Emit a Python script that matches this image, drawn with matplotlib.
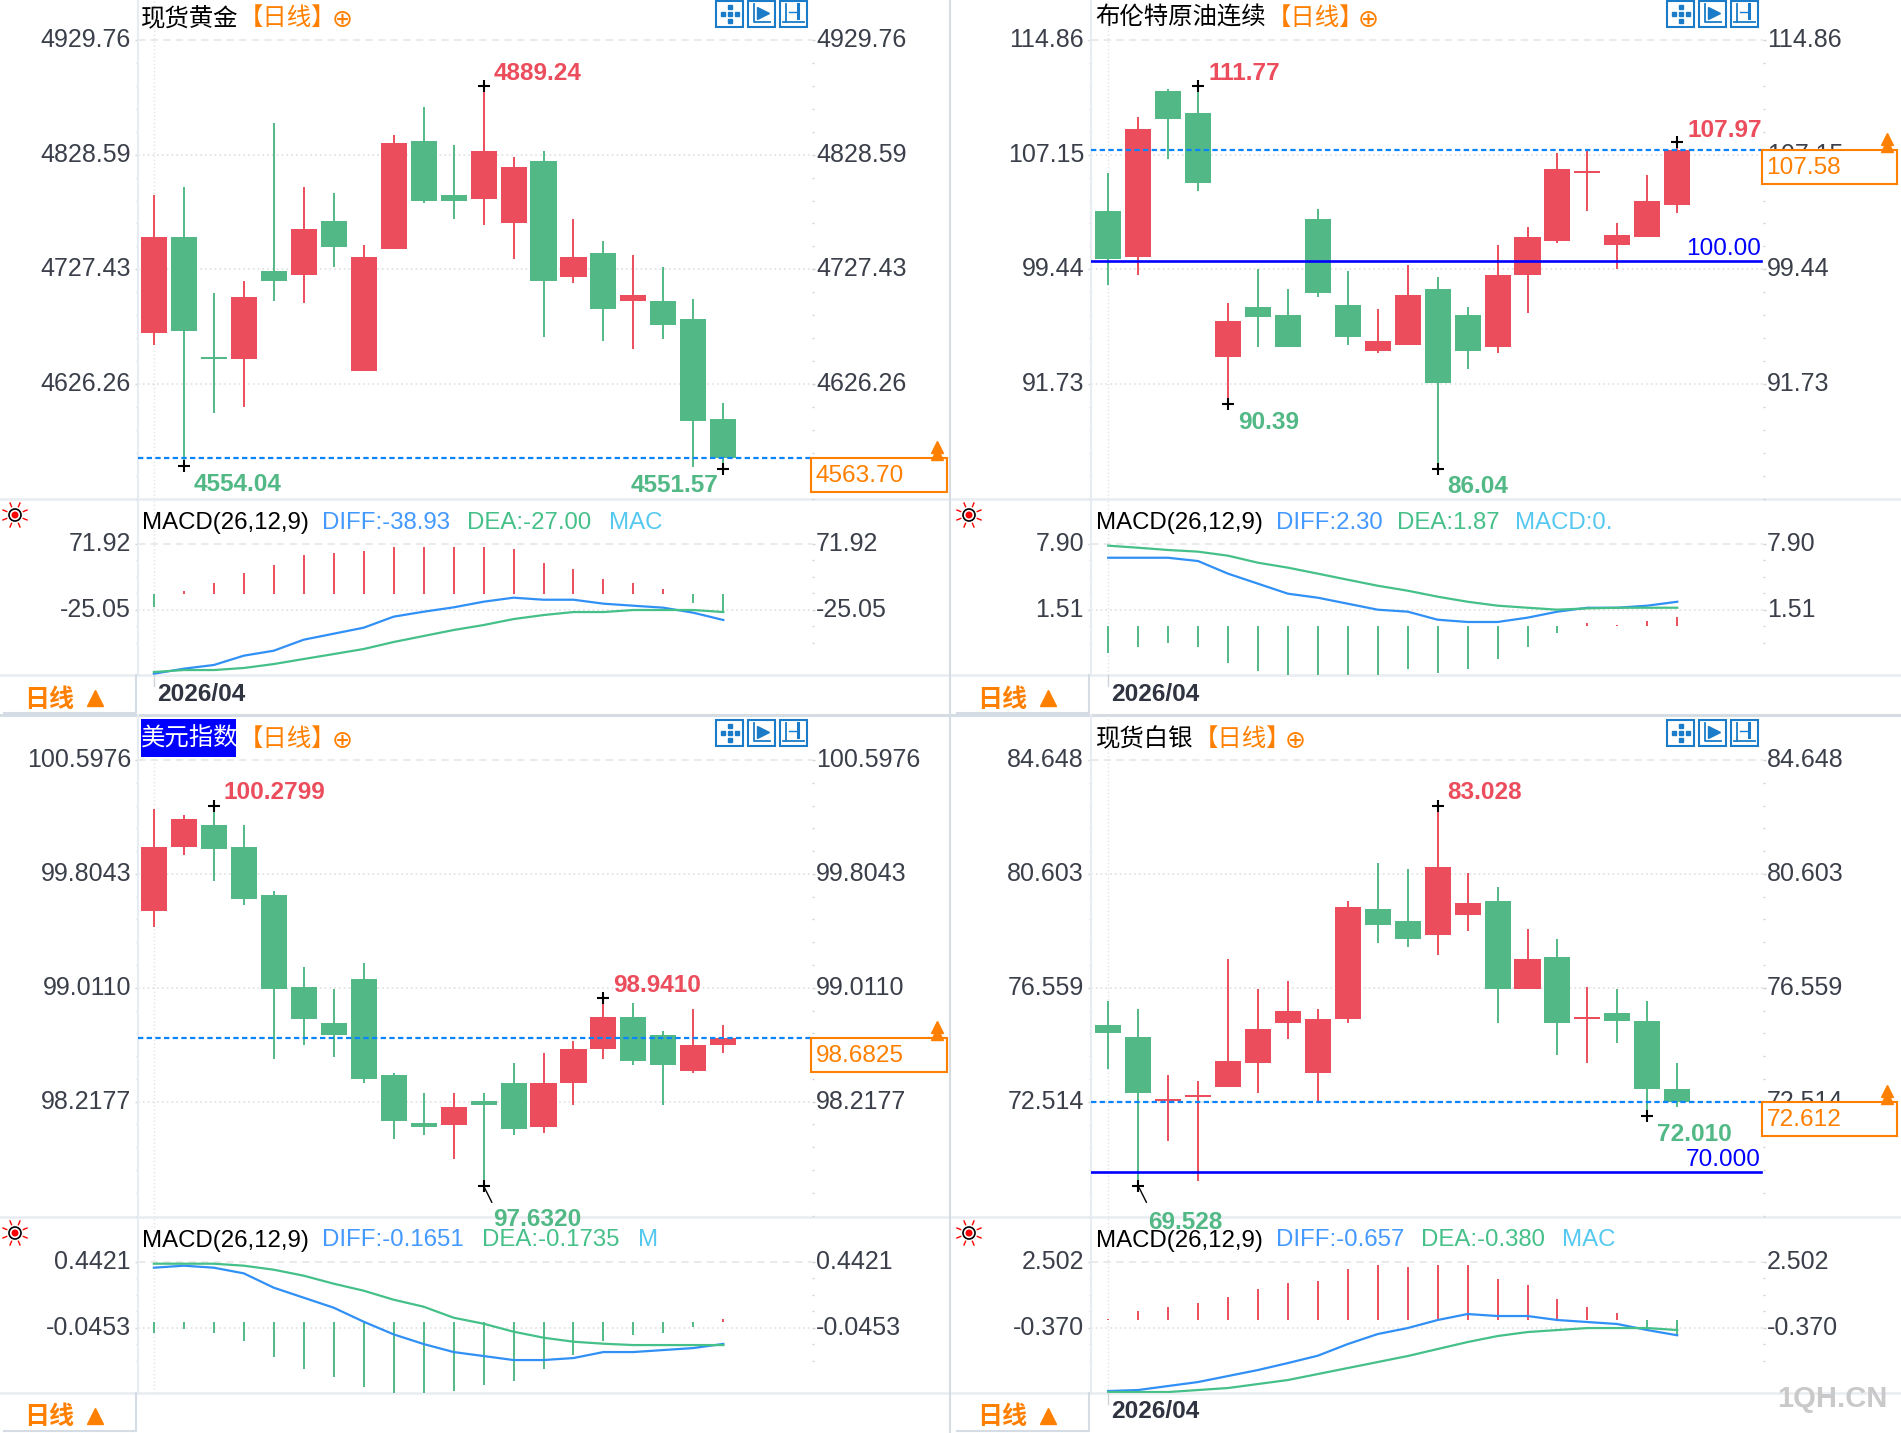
"""
Four-panel daily candlestick screen: gold, Brent, US dollar index, silver, each with MACD
"""

import numpy as np
import matplotlib
matplotlib.use('Agg')
import matplotlib.pyplot as plt
from matplotlib.patches import Rectangle, Circle
from matplotlib.transforms import ScaledTranslation

plt.rcParams['font.family'] = ['Liberation Sans', 'Noto Sans CJK SC', 'DejaVu Sans']

W, H = 1901, 1433
RED = '#ec4d5c'
GREEN = '#52b986'
ORANGE = '#ff8000'
TEXT = '#3a3f4a'
SEP = '#e9edf1'
FS = 17.6
TICK_FS = 18

# gold
gold_open = [4671.3, 4756.0, 4650.2, 4648.4, 4726.0, 4722.5, 4770.1, 4637.8, 4745.4, 4840.7,
             4793.0, 4789.5, 4768.4, 4823.0, 4720.7, 4741.9, 4699.6, 4699.6, 4683.7, 4595.5]
gold_high = [4793.0, 4800.1, 4706.6, 4717.2, 4856.6, 4800.1, 4794.8, 4749.0, 4846.0, 4870.7,
             4837.2, 4889.24, 4826.6, 4831.9, 4771.9, 4752.5, 4740.2, 4729.6, 4701.3, 4609.6]
gold_low = [4660.7, 4554.04, 4600.8, 4606.1, 4699.6, 4697.8, 4729.6, 4637.8, 4745.4, 4786.0,
            4771.9, 4766.6, 4736.6, 4667.8, 4715.5, 4664.3, 4657.2, 4666.1, 4553.2, 4551.57]
gold_close = [4756.0, 4673.1, 4648.4, 4703.1, 4717.2, 4763.1, 4747.2, 4738.4, 4838.9, 4787.8,
              4787.8, 4831.9, 4817.8, 4717.2, 4738.4, 4692.5, 4704.9, 4678.4, 4593.7, 4561.0]
gold_hist = [-20.6, 2.4, 14.1, 28.8, 40.6, 55.3, 58.2, 61.1, 67.0, 67.0,
             67.0, 67.0, 64.1, 43.5, 34.7, 20.0, 14.1, 5.3, -15.7, -26.5]
gold_diff = [-119.1, -111.7, -106.3, -92.6, -85.3, -69.1, -60.3, -51.5, -35.3, -28.0,
             -21.6, -13.3, -7.4, -10.4, -10.4, -16.2, -19.2, -22.1, -29.5, -40.2]
gold_dea = [-116.6, -113.7, -113.7, -110.7, -104.9, -97.5, -90.2, -82.8, -72.5, -63.7,
            -54.9, -47.6, -38.8, -32.9, -28.5, -28.5, -25.5, -25.5, -25.5, -28.5]
gold_ticks = [4929.76, 4828.59, 4727.43, 4626.26]
gold_macd_ticks = [71.92, -25.05]

# brent
brent_open = [103.36, 100.27, 111.43, 109.95, 93.55, 96.91, 96.37, 102.83, 97.04, 93.95,
              94.35, 98.12, 96.37, 94.22, 99.06, 101.35, 105.92, 101.08, 101.62, 103.77]
brent_high = [105.92, 109.68, 111.57, 111.77, 97.18, 99.46, 98.12, 103.5, 99.33, 96.78,
              99.73, 98.93, 96.91, 101.08, 102.29, 107.26, 107.4, 102.56, 105.78, 107.97]
brent_low = [98.39, 99.06, 106.86, 104.71, 90.39, 94.22, 94.22, 97.58, 94.35, 93.82,
             94.35, 86.04, 92.74, 93.82, 96.51, 101.21, 103.36, 99.46, 101.62, 103.23]
brent_close = [100.14, 108.88, 109.55, 105.25, 95.97, 96.24, 94.22, 97.85, 94.89, 94.62,
               97.72, 91.8, 93.95, 99.06, 101.62, 106.19, 106.05, 101.75, 104.04, 107.46]
brent_hist = [-2.65, -2.07, -1.68, -2.07, -3.62, -4.4, -4.9, -4.9, -4.9, -4.9,
              -4.2, -4.59, -4.2, -3.23, -2.07, -0.75, 0.22, 0.03, 0.41, 0.8]
brent_diff = [6.54, 6.54, 6.54, 6.22, 5.0, 4.03, 3.06, 2.67, 2.09, 1.51,
              1.32, 0.54, 0.32, 0.32, 0.74, 1.32, 1.7, 1.7, 1.9, 2.28]
brent_dea = [7.71, 7.51, 7.29, 7.13, 6.74, 6.06, 5.58, 5.0, 4.41, 3.83,
             3.35, 2.77, 2.28, 1.9, 1.7, 1.51, 1.64, 1.7, 1.7, 1.7]
brent_ticks = [114.86, 107.15, 99.44, 91.73]
brent_macd_ticks = [7.90, 1.51]

# dollar index
usd_open = [99.546, 99.992, 100.145, 99.992, 99.657, 99.017, 98.766, 99.072, 98.404, 98.069,
            98.055, 98.223, 98.348, 98.041, 98.348, 98.585, 98.808, 98.682, 98.432, 98.613]
usd_high = [100.256, 100.215, 100.2799, 100.145, 99.685, 99.156, 99.003, 99.184, 98.418, 98.278,
            98.278, 98.278, 98.487, 98.557, 98.641, 98.941, 98.905, 98.71, 98.863, 98.752]
usd_low = [99.434, 99.936, 99.755, 99.588, 98.515, 98.613, 98.529, 98.348, 97.958, 97.986,
           97.819, 97.632, 97.986, 98.0, 98.195, 98.515, 98.473, 98.195, 98.418, 98.557]
usd_close = [99.992, 100.187, 99.978, 99.63, 99.003, 98.794, 98.682, 98.376, 98.083, 98.041,
             98.181, 98.195, 98.027, 98.348, 98.585, 98.808, 98.501, 98.473, 98.613, 98.661]
usd_hist = [-0.0847, -0.0552, -0.0847, -0.1439, -0.2621, -0.3507, -0.4098, -0.4836, -0.555, -0.555,
            -0.5131, -0.4688, -0.4393, -0.3507, -0.2472, -0.1439, -0.0995, -0.0847, -0.0404, 0.0186]
usd_diff = [0.3978, 0.4126, 0.3978, 0.3559, 0.2501, 0.1762, 0.1023, -0.0011, -0.0946, -0.166,
            -0.2251, -0.2546, -0.2842, -0.2842, -0.2694, -0.2251, -0.2251, -0.2103, -0.1956, -0.1651]
usd_dea = [0.4273, 0.4273, 0.4273, 0.4126, 0.383, 0.3387, 0.2796, 0.2279, 0.1614, 0.1097,
           0.0285, -0.0158, -0.0749, -0.1192, -0.1488, -0.1636, -0.1735, -0.1735, -0.1735, -0.1735]
usd_ticks = [100.5976, 99.8043, 99.0110, 98.2177]
usd_macd_ticks = [0.4421, -0.0453]

# silver
silver_open = [75.237, 74.811, 72.538, 72.68, 73.035, 73.887, 75.308, 73.532, 75.45, 79.356,
               78.93, 78.433, 79.143, 79.641, 76.515, 77.652, 75.45, 75.663, 75.379, 72.964]
silver_high = [76.089, 75.805, 73.461, 73.248, 77.581, 76.515, 76.799, 75.805, 79.641, 80.99,
               80.777, 83.028, 80.635, 80.138, 78.646, 78.291, 76.586, 76.515, 76.089, 73.887]
silver_low = [73.674, 69.528, 71.117, 69.697, 73.035, 72.822, 74.74, 72.538, 75.308, 78.149,
              78.007, 77.723, 78.575, 75.308, 76.515, 74.171, 73.887, 74.597, 72.01, 72.325]
silver_close = [74.953, 72.822, 72.609, 72.751, 73.958, 75.095, 75.734, 75.45, 79.427, 78.788,
                78.291, 80.848, 79.569, 76.515, 77.581, 75.308, 75.521, 75.379, 72.964, 72.5]
silver_hist = [0.007, 0.355, 0.529, 0.703, 0.964, 1.313, 1.574, 1.661, 2.183, 2.357,
               2.27, 2.357, 2.357, 1.748, 1.487, 0.877, 0.529, 0.268, -0.341, -0.733]
silver_diff = [-3.126, -3.082, -2.908, -2.734, -2.473, -2.212, -1.908, -1.588, -1.081, -0.646,
               -0.385, -0.036, 0.225, 0.138, 0.138, -0.036, -0.123, -0.21, -0.472, -0.7]
silver_dea = [-3.169, -3.169, -3.169, -3.082, -2.995, -2.821, -2.647, -2.386, -2.125, -1.864,
              -1.603, -1.298, -0.994, -0.733, -0.559, -0.472, -0.385, -0.385, -0.385, -0.472]
silver_ticks = [84.648, 80.603, 76.559, 72.514]
silver_macd_ticks = [2.502, -0.370]


def fmt(v, digits):
    return '{:.{}f}'.format(v, digits)


def px_rect(x0, y0, x1, y1):
    return [x0 / W, 1 - y1 / H, (x1 - x0) / W, (y1 - y0) / H]


def lim_from_ticks(v_hi, px_hi, v_lo, px_lo, top, bottom):
    """Value limits for a panel from two tick rows whose pixel rows are known."""
    per_px = (v_hi - v_lo) / (px_lo - px_hi)
    return v_hi - (bottom - px_hi) * per_px, v_hi + (px_hi - top) * per_px


def raise_labels(ax):
    # the terminal draws its scale numbers a little above the grid row
    offset = ScaledTranslation(0, 2.5 / 100, ax.figure.dpi_scale_trans)
    for lbl in ax.yaxis.get_majorticklabels():
        lbl.set_transform(lbl.get_transform() + offset)


def style_axes(ax, ticks, minor, digits, xlim):
    ax.set_facecolor('none')
    ax.set_xlim(*xlim)
    ax.set_xticks([])
    for side in ['top', 'right', 'bottom']:
        ax.spines[side].set_visible(False)
    ax.spines['left'].set_color('#e6ecf2')
    ax.spines['left'].set_linewidth(1.5)
    labels = [fmt(t, digits) for t in ticks]
    ax.set_yticks(ticks, labels)
    ax.set_yticks(minor, minor=True)
    ax.tick_params(axis='y', which='major', length=2.5, width=1, color='#cfd3d8', pad=2.5,
                   labelsize=TICK_FS, labelcolor=TEXT)
    ax.tick_params(axis='y', which='minor', length=1.5, width=1, color='#cfd3d8')
    ax.grid(axis='y', which='major', ls=':', color='#e4e4e4', lw=1.3)
    ax.get_ygridlines()[0].set_linestyle((0, (4, 3)))
    ax.get_ygridlines()[0].set_color('#e8e8e8')
    ax.axvline(0, ls=':', color='#e4e4e4', lw=1, zorder=0)
    raise_labels(ax)

    right = ax.twinx()
    right.set_facecolor('none')
    right.set_ylim(ax.get_ylim())
    right.set_yticks(ticks, labels)
    right.set_yticks(minor, minor=True)
    right.tick_params(axis='y', which='major', length=2.5, width=1, color='#cfd3d8', pad=0.5,
                      labelsize=TICK_FS, labelcolor=TEXT)
    right.tick_params(axis='y', which='minor', length=1.5, width=1, color='#cfd3d8')
    for side in right.spines:
        right.spines[side].set_visible(False)
    raise_labels(right)
    return right


def draw_candles(ax, o, h, l, c):
    x = np.arange(len(o))
    o, h, l, c = map(np.array, (o, h, l, c))
    colors = [RED if up else GREEN for up in c >= o]
    ax.vlines(x, l, h, colors=colors, lw=1.4, zorder=2)
    ax.bar(x, np.abs(c - o), bottom=np.minimum(o, c), width=0.87, color=colors, lw=0, zorder=3)


def draw_macd(ax, hist, diff, dea, base):
    x = np.arange(len(hist))
    colors = [RED if v > base else GREEN for v in hist]
    ax.vlines(x, base, hist, colors=colors, lw=1.4, zorder=2)
    ax.plot(x, diff, color='#3090f5', lw=1.6, zorder=3)
    ax.plot(x, dea, color='#45c088', lw=1.6, zorder=4)


def extreme_label(ax, idx, val, text, dx, dy, ha, color, leader=False):
    """High/low tag: black cross on the extreme with the value next to it (offsets in pixels)."""
    ax.plot([idx], [val], marker='+', color='black', ms=9, mew=1.5, zorder=6, clip_on=False)
    ax.annotate(text, xy=(idx, val), xytext=(dx * 0.72, (dy - 2.5) * 0.72), textcoords='offset points',
                ha=ha, va='center', color=color, fontsize=FS, fontweight='bold', zorder=7,
                annotation_clip=False)
    if leader:
        ax.annotate('', xy=(idx, val), xytext=(6, -12), textcoords='offset points',
                    arrowprops=dict(arrowstyle='-', color='black', lw=1, shrinkA=0, shrinkB=0),
                    annotation_clip=False)


def draw_buttons(ov, xs, y0):
    c = '#1a7cc8'
    for k, x in enumerate(xs):
        ov.add_patch(Rectangle((x, y0), 27, 26, fc='white', ec=c, lw=1.5))
        cx, cy = x + 13.5, y0 + 13
        if k == 0:
            ov.plot([cx, cx, cx, cx - 7, cx + 7], [cy - 7, cy, cy + 7, cy, cy], ls='none', marker='s',
                    ms=3, color=c)
        elif k == 1:
            ov.plot([x + 6, x + 6, x + 22], [y0 + 3, y0 + 21, y0 + 21], color=c, lw=1.3)
            ov.plot([cx + 1], [cy - 1], marker='>', ms=8, color=c)
        else:
            ov.plot([x + 6, x + 6], [y0 + 3, y0 + 21], color=c, lw=1.3)
            ov.plot([x + 3, x + 24], [y0 + 21, y0 + 21], color=c, lw=1.3)
            ov.plot([cx + 4, cx + 4], [y0 + 3, y0 + 17], color=c, lw=2.2)
            ov.plot([x + 9, x + 17], [cy - 2, cy - 2], color=c, lw=1)


def draw_sun(ov, x, y):
    ov.add_patch(Circle((x, y), 6, fc='white', ec='black', lw=1.2))
    ov.add_patch(Circle((x, y), 3.5, fc='red', ec='none'))
    for a in np.arange(8) * np.pi / 4 + np.pi / 8:
        ov.plot([x + 9 * np.cos(a), x + 13 * np.cos(a)], [y + 9 * np.sin(a), y + 13 * np.sin(a)],
                color='red', lw=1)


def draw_panel(fig, ov, p):
    x0, x1, first, step = p['x0'], p['x1'], p['first'], p['step']
    xlim = ((x0 - first) / step, (x1 - first) / step)

    # price part
    top, bot = p['main_rows']
    ax = fig.add_axes(px_rect(x0, top, x1, bot), zorder=3)
    ticks = p['ticks']
    gap = ticks[0] - ticks[1]
    ylim = lim_from_ticks(ticks[0], p['tick_rows'][0], ticks[-1], p['tick_rows'][1], top, bot)
    ax.set_ylim(*ylim)
    minor = [t for t in np.arange(ticks[0], ylim[0], -gap / 5) if t not in ticks]
    style_axes(ax, ticks, minor, p['digits'], xlim)
    draw_candles(ax, *p['ohlc'])
    ax.axhline(p['ohlc'][3][-1], color='#0a84ff', lw=1.6, ls=(0, (2.4, 1.5)), zorder=4)
    if p['level'] is not None:
        ax.axhline(p['level'], xmax=0.997, color='#0000ff', lw=1.9, zorder=5)
        ax.annotate(p['level_text'], xy=(0.997, p['level']), xycoords=('axes fraction', 'data'),
                    xytext=(0, 12 * 0.72), textcoords='offset points', ha='right', va='center',
                    color='#0000ff', fontsize=FS, zorder=7)
    for lab in p['labels']:
        extreme_label(ax, *lab)

    # macd part
    top, bot = p['macd_rows']
    mac = fig.add_axes(px_rect(x0, top, x1, bot), zorder=2)
    mticks = p['macd_ticks']
    ylim = lim_from_ticks(mticks[0], p['macd_tick_rows'][0], mticks[1], p['macd_tick_rows'][1], top, bot)
    mac.set_ylim(*ylim)
    mgap = (mticks[0] - mticks[1]) / 4
    mminor = [mticks[0] - k * mgap for k in [1, 2, 3]] + [mticks[1] - k * mgap for k in [1, 2]]
    style_axes(mac, mticks, mminor, p['macd_digits'], xlim)
    draw_macd(mac, *p['macd'], p['base'])

    # screen furniture, in pixels
    ty = p['title_row'] + 2.5
    if p['title_bg']:
        ov.add_patch(Rectangle((x0 + 3, ty - 20.5), 95, 38, fc='#0000ff', ec='none'))
    ov.text(p['title_x'], ty, p['title'], color='white' if p['title_bg'] else 'black', fontsize=FS,
            va='center', ha='left')
    ov.text(p['bracket_x'] + 3, ty, '【日线】', color=ORANGE, fontsize=FS, va='center', ha='left')
    ov.text(p['circle_x'], ty + 1, '⊕', color=ORANGE, fontsize=18, va='center', ha='center',
            family='DejaVu Sans')
    draw_buttons(ov, p['button_x'], p['button_row'])

    box_x0, box_x1, box_y0, box_y1 = p['last_box']
    ov.add_patch(Rectangle((box_x0, box_y0), box_x1 - box_x0, box_y1 - box_y0, fc='white', ec=ORANGE, lw=1.5))
    ov.text(box_x0 + 5, (box_y0 + box_y1) / 2 + 1, p['last_text'], color=ORANGE, fontsize=FS, va='center', ha='left')
    ax_x = box_x1 - 10
    ov.plot([ax_x, ax_x], [box_y0 - 11, box_y0 - 4], ls='none', marker='^', ms=8, color=ORANGE)

    # macd header
    hy = p['macd_head_row'] + 2.5
    ov.text(p['head_x'][0], hy, 'MACD(26,12,9)', color='black', fontsize=17.3, va='center', ha='left')
    ov.text(p['head_x'][1], hy, p['diff_text'], color='#4499ff', fontsize=17.3, va='center', ha='left')
    ov.text(p['head_x'][2], hy, p['dea_text'], color='#45c088', fontsize=17.3, va='center', ha='left')
    ov.text(p['head_x'][3], hy, p['macd_text'], color='#55c8f0', fontsize=17.3, va='center', ha='left')
    draw_sun(ov, p['sun_x'], p['macd_head_row'] - 5)

    # period switch and date row
    sx0 = x0 - 138
    ry = p['macd_rows'][1]
    ov.plot([x0 - 2, x0 - 2, sx0 + 4], [ry, ry + 38, ry + 38], color='#d5dce3', lw=1.5)
    ov.text(sx0 + 49, ry + 24.5, '日线', color=ORANGE, fontsize=18, fontweight='bold', va='center', ha='center')
    ov.plot([sx0 + 95], [ry + 23], marker='^', ms=11, color=ORANGE)
    if p['date'] is not None:
        ov.plot([first, first], [ry, ry + 11], color='#cfd3d8', lw=1)
        ov.text(first + 3, ry + 19, p['date'], color='#2f3440', fontsize=FS, fontweight='bold',
                va='center', ha='left')


panels = [
    dict(x0=138, x1=812, first=153.9, step=29.97, main_rows=(0, 499), tick_rows=(40, 384),
         macd_rows=(499, 675), macd_tick_rows=(543.7, 609.7), ticks=gold_ticks, digits=2,
         macd_ticks=gold_macd_ticks, macd_digits=2,
         ohlc=(gold_open, gold_high, gold_low, gold_close), macd=(gold_hist, gold_diff, gold_dea), base=-2.3,
         level=None, level_text='',
         labels=[(11, 4889.24, '4889.24', 10, 15, 'left', RED),
                 (1, 4554.04, '4554.04', 10, -16, 'left', GREEN),
                 (19, 4551.57, '4551.57', -5, -14, 'right', GREEN)],
         title='现货黄金', title_x=141, bracket_x=236, circle_x=342, title_row=16, title_bg=False,
         button_x=[716, 748, 780], button_row=0.5, last_box=(811, 947, 458, 492), last_text='4563.70',
         macd_head_row=520, head_x=[142, 322, 467, 609],
         diff_text='DIFF:-38.93', dea_text='DEA:-27.00', macd_text='MAC',
         sun_x=15, date='2026/04'),
    dict(x0=1091, x1=1763, first=1108.2, step=29.95, main_rows=(0, 499), tick_rows=(40, 384),
         macd_rows=(499, 675), macd_tick_rows=(543.7, 609.7), ticks=brent_ticks, digits=2,
         macd_ticks=brent_macd_ticks, macd_digits=2,
         ohlc=(brent_open, brent_high, brent_low, brent_close), macd=(brent_hist, brent_diff, brent_dea), base=-0.07,
         level=100.0, level_text='100.00',
         labels=[(3, 111.77, '111.77', 10, 15, 'left', RED),
                 (4, 90.39, '90.39', 10, -16, 'left', GREEN),
                 (11, 86.04, '86.04', 10, -15, 'left', GREEN),
                 (19, 107.97, '107.97', 10, 14, 'left', RED)],
         title='布伦特原油连续', title_x=1095.5, bracket_x=1264, circle_x=1368, title_row=16, title_bg=False,
         button_x=[1667, 1699, 1731], button_row=0.5, last_box=(1761.5, 1896.5, 150, 184), last_text='107.58',
         macd_head_row=520, head_x=[1095.5, 1276, 1397, 1515],
         diff_text='DIFF:2.30', dea_text='DEA:1.87', macd_text='MACD:0.',
         sun_x=969, date='2026/04'),
    dict(x0=138, x1=812, first=153.9, step=29.97, main_rows=(715, 1217), tick_rows=(760, 1101.7),
         macd_rows=(1217, 1393), macd_tick_rows=(1261.7, 1327.7), ticks=usd_ticks, digits=4,
         macd_ticks=usd_macd_ticks, macd_digits=4,
         ohlc=(usd_open, usd_high, usd_low, usd_close), macd=(usd_hist, usd_diff, usd_dea), base=0.0,
         level=None, level_text='',
         labels=[(2, 100.2799, '100.2799', 10, 16, 'left', RED),
                 (15, 98.9410, '98.9410', 10, 15, 'left', RED),
                 (11, 97.6320, '97.6320', 10, -31, 'left', GREEN, True)],
         title='美元指数', title_x=141, bracket_x=236, circle_x=342, title_row=737, title_bg=True,
         button_x=[716, 748, 780], button_row=719.5, last_box=(811, 947, 1038, 1072), last_text='98.6825',
         macd_head_row=1238, head_x=[142, 322, 482, 637.6],
         diff_text='DIFF:-0.1651', dea_text='DEA:-0.1735', macd_text='M',
         sun_x=15, date=None),
    dict(x0=1091, x1=1763, first=1108.2, step=29.95, main_rows=(715, 1217), tick_rows=(760, 1101.7),
         macd_rows=(1217, 1393), macd_tick_rows=(1261.7, 1327.7), ticks=silver_ticks, digits=3,
         macd_ticks=silver_macd_ticks, macd_digits=3,
         ohlc=(silver_open, silver_high, silver_low, silver_close), macd=(silver_hist, silver_diff, silver_dea), base=-0.036,
         level=70.0, level_text='70.000',
         labels=[(11, 83.028, '83.028', 10, 16, 'left', RED),
                 (18, 72.010, '72.010', 10, -16, 'left', GREEN),
                 (1, 69.528, '69.528', 10, -34, 'left', GREEN, True)],
         title='现货白银', title_x=1095.5, bracket_x=1191, circle_x=1295.5, title_row=737, title_bg=False,
         button_x=[1667, 1699, 1731], button_row=719.5, last_box=(1761.5, 1896.5, 1102, 1136), last_text='72.612',
         macd_head_row=1238, head_x=[1095.5, 1276, 1421, 1562],
         diff_text='DIFF:-0.657', dea_text='DEA:-0.380', macd_text='MAC',
         sun_x=969, date='2026/04'),
]


def main():
    fig = plt.figure(figsize=(W / 100, H / 100), dpi=100, facecolor='white')

    # separators sit under every panel so the value tags can run across them
    bg = fig.add_axes([0, 0, 1, 1], zorder=0)
    bg.set_xlim(0, W)
    bg.set_ylim(H, 0)
    bg.axis('off')
    for row in [499, 675, 1217, 1393]:
        bg.plot([0, W], [row, row], color=SEP, lw=1.8)
    bg.plot([0, W], [715, 715], color='#d5dce3', lw=2.2)
    bg.plot([950, 950], [0, H], color='#d5dce3', lw=1.5)

    ov = fig.add_axes([0, 0, 1, 1], zorder=10)
    ov.set_xlim(0, W)
    ov.set_ylim(H, 0)
    ov.axis('off')
    ov.patch.set_visible(False)

    for p in panels:
        draw_panel(fig, ov, p)

    ov.text(1777, 1399, '1QH.CN', color='#c9c9c9', fontsize=21, fontweight='bold', va='center', ha='left')

    fig.savefig('out.png', dpi=100)


if __name__ == '__main__':
    main()
